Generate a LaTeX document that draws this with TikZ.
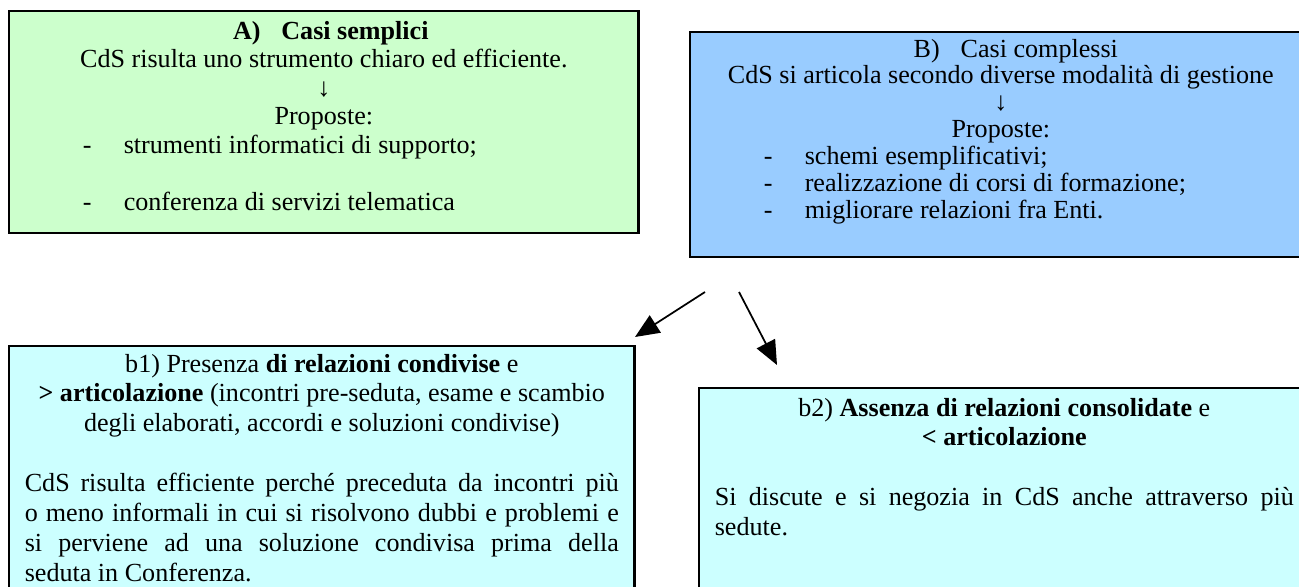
\documentclass[tikz,border=0pt]{standalone}
\usepackage{fontspec}
\setmainfont{Liberation Serif}
\usetikzlibrary{arrows.meta}

\newlength{\pxu}\setlength{\pxu}{0.016166cm}
\newcommand{\righe}[1]{\fontsize{12}{#1}\selectfont}
\newcommand{\voce}[1]{\makebox[\linewidth][l]{\hspace*{58\pxu}\makebox[41\pxu][l]{-}#1}}
\definecolor{verdino}{HTML}{CCFFCC}
\definecolor{azzurro}{HTML}{99CCFF}
\definecolor{celeste}{HTML}{CCFFFF}

\begin{document}
\begin{tikzpicture}[x=0.016166cm, y=-0.016166cm]
\tikzstyle{box1}=[draw, line width=1pt, anchor=north west, inner xsep=0.254cm, inner ysep=0pt]
\tikzstyle{arrow}=[-{Triangle[length=0.39cm,width=0.33cm]}, line width=0.8pt]
\fill[white] (0,0) rectangle (1299,587);
\useasboundingbox (0,0) rectangle (1299,587);

\node (A) [box1, fill=verdino] at (8,10) {\parbox[t][222\pxu][t]{598\pxu}{\righe{13.15}\centering
  \rule{0pt}{28\pxu}\hspace*{14\pxu}\textbf{A)\hspace{0.8em}Casi semplici}\par
  CdS risulta uno strumento chiaro ed efficiente.\par
  ↓\par
  Proposte:\par
  \voce{strumenti informatici di supporto;}\par
  \mbox{}\par
  \voce{conferenza di servizi telematica}\par}};

\node (B) [box1, fill=azzurro] at (689,31) {\parbox[t][225\pxu][t]{590\pxu}{\righe{12.37}\centering
  \rule{0pt}{25\pxu}\hspace*{30\pxu}B)\hspace{0.8em}Casi complessi\par
  CdS si articola secondo diverse modalità di gestione\par
  ↓\par
  Proposte:\par
  \voce{schemi esemplificativi;}\par
  \voce{realizzazione di corsi di formazione;}\par
  \voce{migliorare relazioni fra Enti.}\par}};

\node (b1) [box1, fill=celeste] at (8,345) {\parbox[t][260\pxu][t]{594\pxu}{\righe{13.75}\centering
  \rule{0pt}{26\pxu}b1) Presenza \textbf{di relazioni condivise} e\par
  \textbf{> articolazione} (incontri pre-seduta, esame e scambio\par
  degli elaborati, accordi e soluzioni condivise)\par
  \mbox{}\par
  \leftskip=0pt \rightskip=0pt \parfillskip=0pt plus 1fil
  CdS risulta efficiente perché preceduta da incontri più\linebreak
  o meno informali in cui si risolvono dubbi e problemi e\linebreak
  si perviene ad una soluzione condivisa prima della\linebreak
  seduta in Conferenza.\par}};

\node (b2) [box1, fill=celeste] at (698,387) {\parbox[t][210\pxu][t]{579\pxu}{\righe{13.75}\centering
  \rule{0pt}{28\pxu}b2) \textbf{Assenza di relazioni consolidate} e\par
  \textbf{< articolazione}\par
  \mbox{}\par
  \leftskip=0pt \rightskip=0pt \parfillskip=0pt plus 1fil
  Si discute e si negozia in CdS anche attraverso più\linebreak
  sedute.\par}};

% frecce verso b1 e b2
\coordinate (splitL) at (705,292);
\coordinate (endL) at (635,337);
\coordinate (splitR) at (739,292);
\coordinate (endR) at (777,365);
\draw [arrow] (splitL) -- (endL);
\draw [arrow] (splitR) -- (endR);

\end{tikzpicture}
\end{document}
